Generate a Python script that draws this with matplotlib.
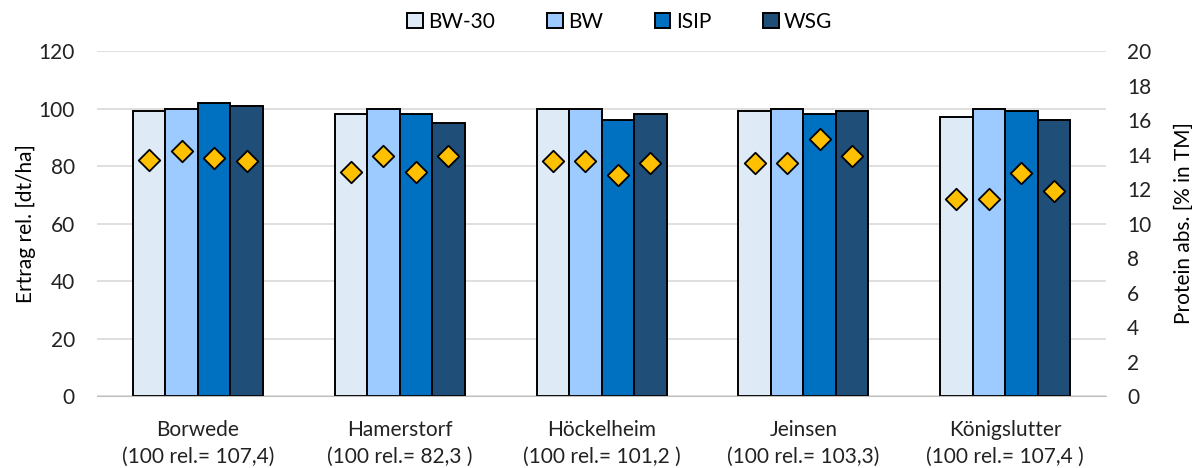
import numpy as np
import matplotlib.pyplot as plt

plt.rcParams['font.family'] = ['Lato', 'DejaVu Sans']

standorte = ["Borwede\n(100 rel.= 107,4)", "Hamerstorf\n(100 rel.= 82,3 )",
             "Höckelheim\n(100 rel.= 101,2 )", "Jeinsen\n(100 rel.= 103,3)",
             "Königslutter\n(100 rel.= 107,4 )"]
varianten = ["BW-30", "BW", "ISIP", "WSG"]

# Relativertrag je Variante und Standort
ertrag = {
    "BW-30": [99, 98, 100, 99, 97],
    "BW":    [100, 100, 100, 100, 100],
    "ISIP":  [102, 98, 96, 98, 99],
    "WSG":   [101, 95, 98, 99, 96],
}
# Proteingehalt absolut [% in TM]
protein = {
    "BW-30": [13.7, 13.0, 13.6, 13.5, 11.4],
    "BW":    [14.2, 13.9, 13.6, 13.5, 11.4],
    "ISIP":  [13.8, 13.0, 12.8, 14.9, 12.9],
    "WSG":   [13.6, 13.9, 13.5, 13.9, 11.9],
}
farben = {"BW-30": "#DEEBF7", "BW": "#9DCBFF", "ISIP": "#0070C0", "WSG": "#1F4E79"}

fig = plt.figure(figsize=(11.92, 4.68), dpi=100)
ax = fig.add_axes([0.0814, 0.1538, 0.8465, 0.7372])
ax2 = ax.twinx()

x = np.arange(len(standorte))
w = 0.161
for i, v in enumerate(varianten):
    pos = x + (i - 1.5) * w
    ax.bar(pos, ertrag[v], width=w, color=farben[v], edgecolor="black",
           linewidth=1.4, label=v, zorder=2)
    ax2.scatter(pos, protein[v], marker="D", s=120, color="#FFC000",
                edgecolor="black", linewidth=1.3, zorder=3)

ax.set_xlim(-0.5, len(standorte) - 0.5)
ax.set_ylim(0, 120)
ax.set_yticks(range(0, 121, 20))
ax2.set_ylim(0, 20)
ax2.set_yticks(range(0, 21, 2))
ax.yaxis.grid(True, color="#D9D9D9", linewidth=1.2, zorder=0)
ax.set_axisbelow(True)
ax.set_xticks(x)
ax.set_xticklabels(standorte, fontsize=15, linespacing=1.45)

for a in (ax, ax2):
    for s in a.spines.values():
        s.set_visible(False)
    a.tick_params(length=0, labelsize=15, colors="#222222")
ax.spines["bottom"].set_visible(True)
ax.spines["bottom"].set_color("#BFBFBF")
ax.tick_params(axis="y", pad=16)
ax2.tick_params(axis="y", pad=15)
ax.tick_params(axis="x", pad=17)

ax.set_ylabel("Ertrag rel. [dt/ha]", fontsize=15, labelpad=2)
ax2.set_ylabel("Protein abs. [% in TM]", fontsize=15, labelpad=16)
ax2.set_zorder(ax.get_zorder() + 1)

ax.legend(loc="center", bbox_to_anchor=(0.518, 1.085), ncol=4, frameon=False,
          fontsize=15, handlelength=0.75, handleheight=0.75, columnspacing=2.5,
          handletextpad=0.25)

fig.savefig("out.png", dpi=100)
